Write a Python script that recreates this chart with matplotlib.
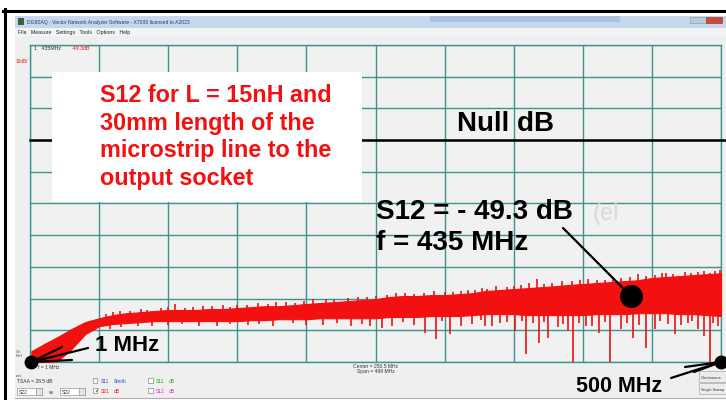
import matplotlib.pyplot as plt
from matplotlib.patches import Rectangle
import numpy as np

W, H = 726, 400

# S12 trace (MHz, dB): band edges every 10 MHz
band_freq = [1] + list(range(10, 501, 10))
band_top = [-66.6, -64.4, -62.1, -59.6, -57.4, -56.2, -55.2, -54.6, -54.3, -53.9,
            -53.6, -53.6, -53.6, -53.3, -53.3, -53.0, -52.7, -52.4, -52.4, -52.1,
            -51.7, -51.4, -51.1, -50.8, -50.5, -50.2, -49.5, -49.2, -49.2, -48.9,
            -48.9, -48.6, -48.3, -47.6, -47.3, -47.0, -46.7, -46.4, -46.1, -45.7,
            -45.4, -45.1, -44.8, -44.5, -44.2, -43.5, -43.2, -42.9, -42.6, -42.3,
            -42.0]
band_bottom = [-70.5, -70.5, -69.7, -65.9, -61.2, -58.7, -58.0, -57.7, -57.4, -57.1,
               -57.1, -57.1, -57.1, -57.1, -57.1, -57.1, -56.8, -56.8, -56.5, -56.5,
               -56.5, -56.2, -56.2, -56.2, -56.2, -56.2, -55.8, -55.8, -55.8, -55.5,
               -55.5, -55.5, -55.2, -54.9, -54.9, -54.9, -55.2, -55.2, -55.2, -55.2,
               -55.2, -54.9, -54.9, -54.9, -54.6, -54.6, -54.6, -54.9, -54.9, -55.2,
               -55.5]

# noise spikes below / above the band
dip_freq = [58, 66, 78, 88, 100, 110, 122, 135, 145, 158, 166, 176, 190, 200, 212,
            222, 232, 240, 246, 255, 262, 270, 278, 286, 294, 298, 304, 312, 320,
            326, 329, 334, 340, 345, 351, 356, 359, 364, 368, 372, 375, 382, 386,
            389, 393, 397, 402, 407, 412, 416, 420, 428, 432, 436, 441, 446, 452,
            456, 462, 467, 471, 476, 479, 483, 488, 492, 494, 498]
dip_db = [-59.5, -59.0, -58.6, -58.5, -58.4, -58.0, -58.7, -58.6, -58.0, -58.3,
          -57.9, -58.5, -57.8, -58.2, -58.4, -57.6, -58.7, -58.0, -58.5, -59.3,
          -58.5, -57.4, -58.2, -60.9, -62.8, -57.2, -61.2, -58.5, -58.0, -56.8,
          -58.7, -58.7, -57.7, -57.5, -60.3, -57.0, -67.5, -57.8, -64.0, -57.4,
          -62.5, -59.0, -58.0, -60.3, -70.0, -57.6, -58.7, -58.5, -60.9, -57.4,
          -70.0, -59.5, -57.7, -62.5, -58.4, -65.6, -59.6, -57.2, -58.0, -61.2,
          -58.2, -57.7, -57.0, -59.6, -61.8, -70.0, -57.8, -58.7]
peak_freq = [55, 60, 65, 72, 80, 85, 95, 100, 105, 112, 118, 125, 132, 140, 145,
             150, 157, 165, 172, 178, 185, 192, 198, 205, 214, 220, 230, 237, 244,
             250, 258, 265, 271, 278, 285, 292, 300, 306, 312, 317, 322, 327, 331,
             337, 345, 350, 355, 361, 367, 372, 378, 385, 392, 398, 404, 410, 416,
             422, 428, 434, 440, 446, 452, 457, 460, 465, 469, 474, 478, 483, 488,
             492, 496, 499]
peak_db = [-55.0, -54.3, -53.9, -53.8, -53.2, -53.5, -53.0, -52.5, -51.7, -52.9,
           -52.6, -52.3, -52.4, -52.0, -52.6, -52.0, -51.9, -51.5, -51.6, -51.2,
           -51.0, -51.3, -50.8, -50.2, -50.2, -50.3, -49.8, -49.5, -49.5, -49.3,
           -48.8, -48.2, -48.3, -48.4, -48.2, -47.6, -48.0, -47.9, -47.6, -47.2,
           -47.3, -46.6, -47.0, -46.0, -46.2, -45.9, -45.8, -45.2, -43.8, -45.3,
           -45.0, -44.6, -44.5, -44.2, -43.8, -44.0, -44.0, -43.2, -43.5, -43.3,
           -42.3, -42.8, -42.5, -41.9, -42.0, -42.1, -42.9, -41.6, -41.8, -41.5,
           -41.3, -41.8, -41.3, -40.9]

marker_freq, marker_db = 435, -49.3
start_freq, stop_freq = 1, 500
ref_db = 0

red = '#f21010'
grid_c = '#3d948f'
win_bg = '#efefef'


def fx(x):
    return x / W


def fy(y):
    return 1 - y / H


def rect(x0, y0, x1, y1, **kw):
    fig.add_artist(Rectangle((fx(x0), fy(y1)), (x1 - x0) / W, (y1 - y0) / H,
                             transform=fig.transFigure, **kw))


def label(x, y, s, **kw):
    kw.setdefault('family', 'Liberation Sans')
    kw.setdefault('va', 'baseline')
    kw.setdefault('zorder', 6)
    fig.text(fx(x), fy(y), s, **kw)


fig = plt.figure(figsize=(W / 100, H / 100), dpi=100)
fig.patch.set_facecolor('white')

# window chrome
rect(15, 16, 726, 398, facecolor=win_bg, edgecolor='none', zorder=-2)
rect(15, 16, 726, 28, facecolor='#c6d8ec', edgecolor='none', zorder=-1)
rect(430, 16, 620, 22, facecolor='#a9c2dd', edgecolor='none', zorder=-1)
rect(18, 18, 24, 25, facecolor='#35603a', edgecolor='none', zorder=-1)
rect(690, 17, 706, 23, facecolor='#b9c9dc', edgecolor='#8899aa', lw=0.4, zorder=-1)
rect(706, 17, 722, 23, facecolor='#d04a38', edgecolor='#8a2a20', lw=0.4, zorder=-1)
rect(15, 28, 726, 36, facecolor='#f3f4f6', edgecolor='none', zorder=-1)
label(27, 24, 'DG8SAQ - Vector Network Analyzer Software - X7000 licensed to A2023',
      fontsize=3.6, color='#2a3a55')
label(18, 34, 'File   Measure   Settings   Tools   Options   Help',
      fontsize=3.8, color='#222222')
fig.add_artist(plt.Line2D([fx(15), fx(726)], [fy(397.5)] * 2, color='#b0b0b0',
                          lw=0.8, transform=fig.transFigure, zorder=-1))
fig.add_artist(plt.Line2D([fx(4.5), fx(4.5)], [fy(9), fy(400)], color='black',
                          lw=2.2, transform=fig.transFigure, zorder=7))
fig.add_artist(plt.Line2D([fx(3), fx(726)], [fy(10.5), fy(10.5)], color='black',
                          lw=2.2, transform=fig.transFigure, zorder=7))

# plot area
ax = fig.add_axes([fx(30), fy(362), 691 / W, 317 / H])
ax.set_facecolor('#f1f1f1')
ax.set_xlim(0, 500)
ax.set_ylim(-70, 30)
ax.set_xticks(range(0, 501, 50))
ax.set_yticks(range(-70, 31, 10))
ax.grid(True, color=grid_c, lw=1.0)
ax.tick_params(length=0, labelbottom=False, labelleft=False)
for sp in ax.spines.values():
    sp.set_color(grid_c)
    sp.set_linewidth(1.0)

ax.plot([0, 503.5], [ref_db, ref_db], color='black', lw=1.8, clip_on=False, zorder=3)

band_mid = (np.array(band_top) + np.array(band_bottom)) / 2
ax.fill_between(band_freq, band_bottom, band_top, color=red, lw=0.8, zorder=3)
ax.vlines(dip_freq, np.interp(dip_freq, band_freq, band_mid), dip_db,
          color=red, lw=1.2, zorder=3)
ax.vlines(peak_freq, np.interp(peak_freq, band_freq, band_mid), peak_db,
          color=red, lw=1.2, zorder=3)

# marker dots
ax.plot(marker_freq, marker_db, 'o', color='black', ms=15.5, clip_on=False, zorder=5)
ax.plot([start_freq, stop_freq], [-70, -70], 'o', color='black', ms=9,
        clip_on=False, zorder=5, ls='none')

arrow = dict(arrowstyle='-', color='black', lw=1.6, shrinkA=0, shrinkB=0)
ax.annotate('', xy=(marker_freq, marker_db), xytext=(fx(563), fy(228)),
            textcoords='figure fraction', arrowprops=arrow, zorder=5)
for px, py in [(88, 348), (62, 347), (72, 360)]:
    ax.annotate('', xy=(start_freq, -70), xytext=(fx(px), fy(py)),
                textcoords='figure fraction', arrowprops=arrow, annotation_clip=False)
for px, py in [(671, 378), (685, 367), (694, 372)]:
    ax.annotate('', xy=(stop_freq, -70), xytext=(fx(px), fy(py)),
                textcoords='figure fraction', arrowprops=arrow, annotation_clip=False)

# small screen texts
label(34, 49.5, '1   435MHz', fontsize=3.8, color='#333333')
label(72, 49.5, '-49.3dB', fontsize=3.8, color=red)
label(16, 63, '10dB/', fontsize=3.4, color=red)
label(16, 353, 'Ch', fontsize=3.2, color='#555555')
label(16, 357, 'Ref', fontsize=3.2, color='#555555')
label(38, 369, 'f = 1 MHz', fontsize=3.6, color='#333333')
label(353, 368, 'Center = 250.5 MHz', fontsize=3.6, color='#333333')
label(357, 373, 'Span = 499 MHz', fontsize=3.6, color='#333333')
label(16, 377, 'ext', fontsize=3.2, color='#555555')
label(17, 383, 'TSAA = 28.5 dB', fontsize=3.6, color='#333333')
rect(17, 388, 42, 395, facecolor='white', edgecolor='#999999', lw=0.5, zorder=5)
rect(36, 388, 42, 395, facecolor='#e4e4e4', edgecolor='#999999', lw=0.5, zorder=5)
rect(60, 388, 85, 395, facecolor='white', edgecolor='#999999', lw=0.5, zorder=5)
rect(79, 388, 85, 395, facecolor='#e4e4e4', edgecolor='#999999', lw=0.5, zorder=5)
label(19, 393.5, 'S22', fontsize=3.6, color='#333333')
label(62, 393.5, 'S22', fontsize=3.6, color='#333333')
label(49, 393.5, 'vs', fontsize=3.6, color='#333333')
for cx, cy, name, kind, col in [(93, 383, 'S11', 'Smith', '#3344cc'),
                                (93, 393, 'S21', 'dB', red),
                                (148, 383, 'S11', 'dB', '#22aa22'),
                                (148, 393, 'S12', 'dB', '#dd22cc')]:
    rect(cx, cy - 5, cx + 4.5, cy - 0.5, facecolor='white', edgecolor='#888888',
         lw=0.5, zorder=5)
    label(cx + 8, cy, name, fontsize=3.6, color=col)
    label(cx + 21, cy, kind, fontsize=3.6, color=col)
label(94, 392.3, '\u2713', fontsize=4, color='#333333', family='DejaVu Sans')
rect(699, 371, 726, 382, facecolor='#ececec', edgecolor='#aaaaaa', lw=0.5, zorder=5)
rect(699, 383, 726, 394, facecolor='#ececec', edgecolor='#aaaaaa', lw=0.5, zorder=5)
label(701, 379, 'Continuous', fontsize=3.0, color='#333333')
label(701, 391, 'Single Sweep', fontsize=2.7, color='#333333')

# caption box
rect(52, 72, 362, 202, facecolor='white', edgecolor='none', zorder=4)
for i, line in enumerate(['S12 for L = 15nH and', '30mm length of the',
                          'microstrip line to the', 'output socket']):
    label(100, 102 + i * 27.7, line, fontsize=16.8, color=red, weight='bold')

label(457, 131, 'Null dB', fontsize=20, color='black', weight='bold')
label(592, 220, '(el', fontsize=17, color='#dadada')
label(376, 219, 'S12 = - 49.3 dB', fontsize=20, color='black', weight='bold')
label(376, 250, 'f = 435 MHz', fontsize=20, color='black', weight='bold')
label(95, 351, '1 MHz', fontsize=16, color='black', weight='bold')
label(576, 392, '500 MHz', fontsize=15.5, color='black', weight='bold')

fig.savefig('out.png', dpi=100)
